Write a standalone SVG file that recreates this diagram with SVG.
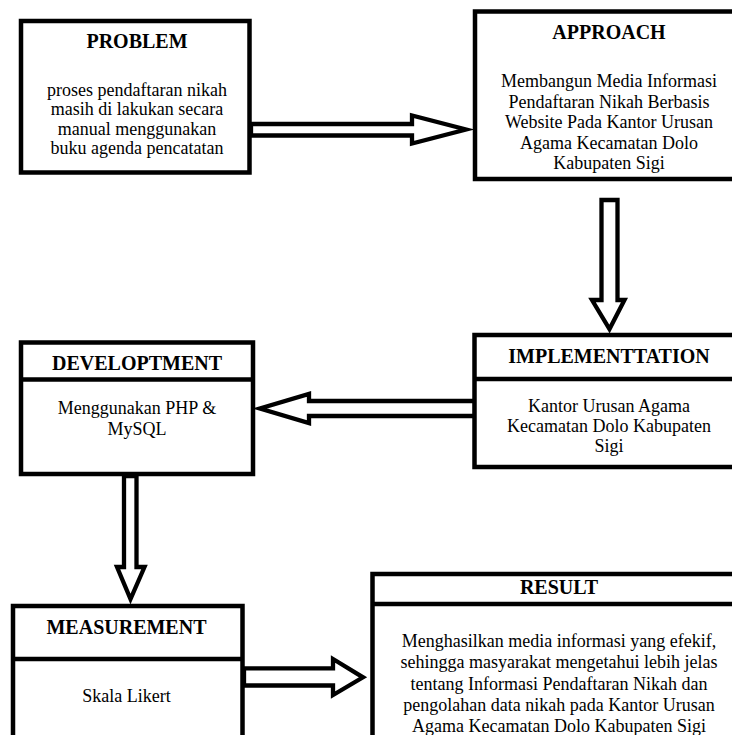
<svg xmlns="http://www.w3.org/2000/svg" width="732" height="735" viewBox="0 0 732 735">
<style>
.box{fill:#fff;stroke:#000;stroke-width:4.5}
.div{stroke:#000;stroke-width:4.5}
.arr{fill:#fff;stroke:#000;stroke-width:4.3;stroke-linejoin:miter;stroke-miterlimit:10}
.t{font-family:"Liberation Serif","Times New Roman",serif;font-size:20px;font-weight:bold;text-anchor:middle;fill:#000}
.b{font-family:"Liberation Serif","Times New Roman",serif;font-size:18px;text-anchor:middle;fill:#000}
</style>
<rect width="732" height="735" fill="#fff"/>
<g id="connectors">
<polygon class="arr" points="251,124 412,124 412,115.5 466,129.5 412,143.5 412,135.5 251,135.5"/>
<polygon class="arr" points="601.5,200 617.5,200 617.5,300 624.5,300 609.5,329 592,300 601.5,300"/>
<polygon class="arr" points="475,401 309,401 309,394 260,408.5 309,423 309,416 475,416"/>
<polygon class="arr" points="124,476 136.5,476 136.5,567 144.5,567 130.5,599 117,567 124,567"/>
<polygon class="arr" points="244,668.3 333,668.3 333,659 363,677.3 333,695 333,685.5 244,685.5"/>
</g>
<g id="problem">
<rect class="box" x="21" y="21" width="228.5" height="151.5"/>
<text class="t" x="137" y="48">PROBLEM</text>
<text class="b" x="137" y="96">proses pendaftaran nikah</text>
<text class="b" x="137" y="115.3">masih di lakukan secara</text>
<text class="b" x="137" y="134.6">manual menggunakan</text>
<text class="b" x="137" y="154">buku agenda pencatatan</text>
</g>
<g id="approach">
<rect class="box" x="475" y="11.5" width="270" height="167.5"/>
<text class="t" x="609" y="39">APPROACH</text>
<text class="b" x="609" y="87">Membangun Media Informasi</text>
<text class="b" x="609" y="107.5">Pendaftaran Nikah Berbasis</text>
<text class="b" x="609" y="128">Website Pada Kantor Urusan</text>
<text class="b" x="609" y="148.5">Agama Kecamatan Dolo</text>
<text class="b" x="609" y="169">Kabupaten Sigi</text>
</g>
<g id="implementation">
<rect class="box" x="474.5" y="335" width="270" height="132"/>
<line class="div" x1="474.5" y1="379" x2="745" y2="379"/>
<text class="t" x="609" y="363">IMPLEMENTTATION</text>
<text class="b" x="609" y="411.5">Kantor Urusan Agama</text>
<text class="b" x="609" y="432">Kecamatan Dolo Kabupaten</text>
<text class="b" x="609" y="452">Sigi</text>
</g>
<g id="developtment">
<rect class="box" x="21" y="342.5" width="232" height="131.5"/>
<line class="div" x1="21" y1="379.5" x2="253" y2="379.5"/>
<text class="t" x="137" y="370">DEVELOPTMENT</text>
<text class="b" x="137" y="414">Menggunakan PHP &amp;</text>
<text class="b" x="137" y="434.5">MySQL</text>
</g>
<g id="measurement">
<rect class="box" x="13" y="606" width="229.5" height="150"/>
<line class="div" x1="13" y1="659" x2="242.5" y2="659"/>
<text class="t" x="126.5" y="634">MEASUREMENT</text>
<text class="b" x="126.5" y="701.5">Skala Likert</text>
</g>
<g id="result">
<rect class="box" x="372.5" y="574" width="372.5" height="180"/>
<line class="div" x1="372.5" y1="604" x2="745" y2="604"/>
<text class="t" x="559" y="593.5">RESULT</text>
<text class="b" x="559" y="647">Menghasilkan media informasi yang efekif,</text>
<text class="b" x="559" y="668">sehingga masyarakat mengetahui lebih jelas</text>
<text class="b" x="559" y="689.5">tentang Informasi Pendaftaran Nikah dan</text>
<text class="b" x="559" y="710.5">pengolahan data nikah pada Kantor Urusan</text>
<text class="b" x="559" y="731.5">Agama Kecamatan Dolo Kabupaten Sigi</text>
</g>
</svg>
